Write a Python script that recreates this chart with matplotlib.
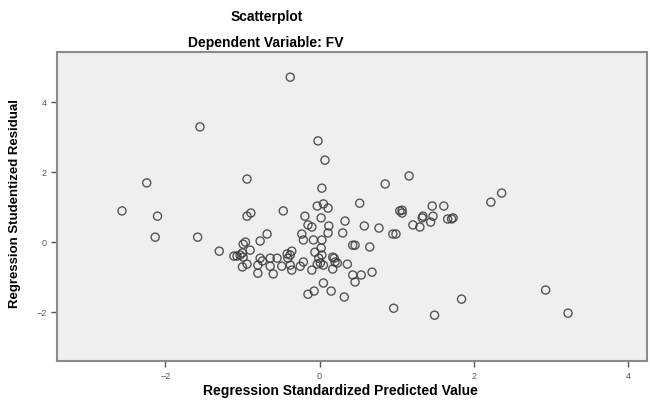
import matplotlib
matplotlib.use("Agg")
import matplotlib.pyplot as plt

plt.rcParams['font.family'] = ['Liberation Sans', 'DejaVu Sans']

# Regression Standardized Predicted Value
pred = [-0.38, -1.55, -0.02, 0.07, -2.24, -0.94, 0.85, 1.16, 0.03, -2.56,
        -2.10, -2.13, -1.58, -1.30, -0.94, -0.89, -0.47, -0.19, -0.03, 0.05,
        0.11, 0.02, 0.52, -0.15, -0.10, 0.12, 0.33, 0.58, 0.77, -0.23,
        -0.68, -0.77, -0.96, -0.99, -0.21, -0.08, 0.03, 0.11, 0.30, 0.43,
        0.46, 0.65, 1.04, 1.07, 0.95, 0.99, -0.90, -1.11, -1.07, -1.03,
        -1.00, -0.99, -0.77, -0.64, -0.55, -0.41, -0.38, -0.42, -0.06, 0.03,
        0.17, 0.19, 0.01, 0.20, 0.36, -1.00, -0.94, -0.80, -0.74, -0.64,
        -0.49, -0.38, -0.36, -0.25, -0.10, -0.03, 0.05, -0.80, -0.60, 0.23,
        0.43, 0.54, 0.46, 0.68, 0.17, 0.05, -0.07, -0.15, 0.15, 0.32,
        0.96, 1.49, 1.84, 2.93, 3.22, 2.22, 2.36, 1.46, 1.61, 1.34,
        1.33, 1.47, 1.44, 1.21, 1.30, 1.66, 1.71, 1.73, 1.07, -0.21,
        0.02, -0.01, -0.36]

# Regression Studentized Residual
resid = [4.71, 3.29, 2.89, 2.34, 1.69, 1.80, 1.66, 1.89, 1.54, 0.89,
         0.74, 0.14, 0.14, -0.26, 0.74, 0.83, 0.89, 0.74, 1.03, 1.09,
         0.97, 0.69, 1.11, 0.49, 0.43, 0.46, 0.60, 0.46, 0.40, 0.23,
         0.23, 0.03, 0.00, -0.06, 0.06, 0.06, 0.06, 0.26, 0.26, -0.09,
         -0.09, -0.14, 0.89, 0.83, 0.23, 0.23, -0.23, -0.40, -0.40, -0.37,
         -0.31, -0.43, -0.46, -0.46, -0.46, -0.46, -0.37, -0.34, -0.29, -0.37,
         -0.43, -0.46, -0.60, -0.57, -0.63, -0.71, -0.63, -0.66, -0.54, -0.69,
         -0.69, -0.66, -0.80, -0.69, -0.80, -0.63, -0.66, -0.89, -0.91, -0.60,
         -0.94, -0.94, -1.14, -0.86, -0.77, -1.17, -1.40, -1.49, -1.40, -1.57,
         -1.89, -2.09, -1.63, -1.37, -2.03, 1.14, 1.40, 1.03, 1.03, 0.74,
         0.69, 0.74, 0.57, 0.49, 0.43, 0.66, 0.66, 0.69, 0.91, -0.57,
         -0.17, -0.46, -0.26]

xticks = [-2, 0, 2, 4]
yticks = [-2, 0, 2, 4]

fig = plt.figure(figsize=(6.5, 4.03), dpi=100)
fig.patch.set_facecolor('white')
ax = fig.add_axes([0.088, 0.104, 0.907, 0.767])
ax.set_facecolor('#efefef')

ax.scatter(pred, resid, s=34, facecolors='none', edgecolors='#3a3a3a',
           linewidths=1.0, alpha=0.85)

ax.set_xlim(-3.40, 4.24)
ax.set_ylim(-3.40, 5.43)
ax.set_xticks(xticks)
ax.set_yticks(yticks)
ax.tick_params(labelsize=6.5, colors='#555555', length=4, width=1)
for s in ax.spines.values():
    s.set_color('#8a8a8a')
    s.set_linewidth(1.5)

fig.text(267 / 650, 1 - 17 / 403, 'Scatterplot', ha='center', va='center',
         fontsize=10, fontweight='bold')
fig.text(266 / 650, 1 - 43 / 403, 'Dependent Variable: FV', ha='center',
         va='center', fontsize=10, fontweight='bold')
fig.text(340 / 650, 1 - 391 / 403, 'Regression Standardized Predicted Value',
         ha='center', va='center', fontsize=10, fontweight='bold')
fig.text(15 / 650, 1 - 203 / 403, 'Regression Studentized Residual',
         ha='center', va='center', rotation=90, fontsize=9.5, fontweight='bold')

fig.savefig('out.png', dpi=100)
